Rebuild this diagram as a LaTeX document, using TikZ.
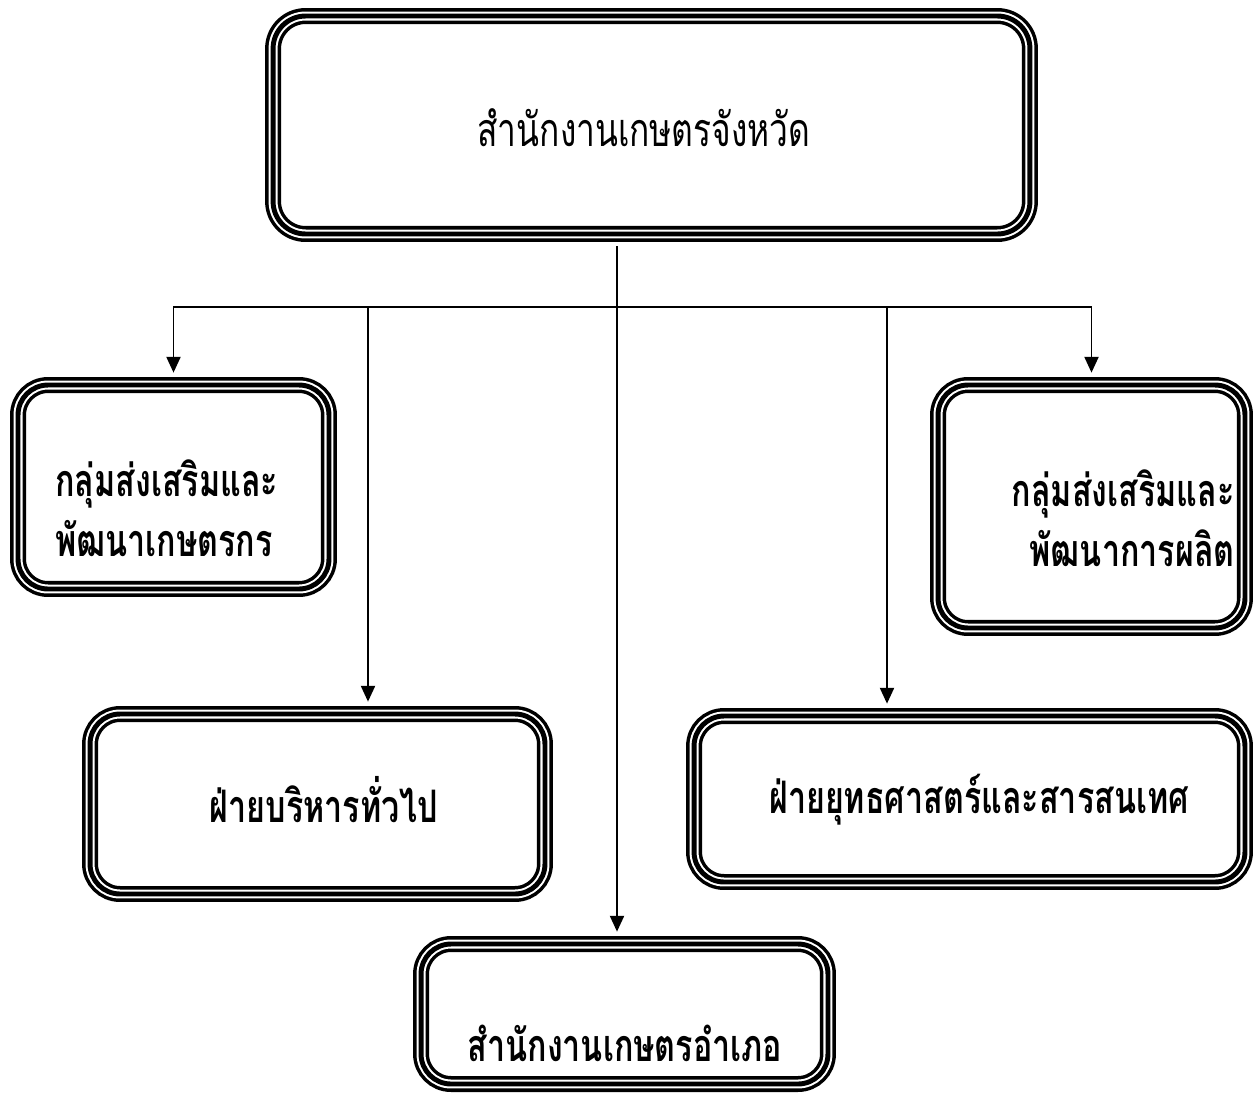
\documentclass[tikz,border=0pt]{standalone}
\usepackage{fontspec}
\newfontfamily\thaifont[Script=Thai,FakeStretch=0.72]{Loma}
\usetikzlibrary{arrows.meta}
\usetikzlibrary{calc}

\begin{document}
\begin{tikzpicture}[x=0.02cm, y=-0.02cm,
  box/.style={rounded corners=0.6cm, minimum width=#1, inner sep=0pt,
    preaction={draw=black, line width=9.1pt}, draw=white, line width=5.1pt,
    postaction={draw=black, line width=2.8pt}},
  txt/.style={font=\thaifont\fontsize{25.5}{34}\selectfont\bfseries, inner sep=0pt},
  link/.style={line width=1.1pt, shorten >=4.5pt, -{Triangle[length=9pt, width=8pt]}}]
\useasboundingbox (0,0) rectangle (1257,1096);

\node[box=15.14cm, minimum height=4.36cm, rounded corners=0.65cm] (hq) at (651.5,125) {};
\node[box=6.22cm, minimum height=4.08cm] (grp1) at (173.5,487) {};
\node[box=6.14cm, minimum height=4.86cm] (grp2) at (1091.5,506.5) {};
\node[box=9.1cm, minimum height=3.6cm] (adm) at (317.5,804) {};
\node[box=11.02cm, minimum height=3.32cm] (strat) at (969.5,799) {};
\node[box=8.14cm, minimum height=2.8cm] (amp) at (624.5,1014) {};

\node[txt, font=\thaifont\fontsize{26.5}{34}\selectfont] (hqt) at (644,128) {สำนักงานเกษตรจังหวัด};
\node[txt, anchor=west, align=left] (grp1t) at (55,508) {กลุ่มส่งเสริมและ\\พัฒนาเกษตรกร};
\node[txt, anchor=east, align=right] (grp2t) at (1235,518) {กลุ่มส่งเสริมและ\\พัฒนาการผลิต};
\node[txt] (admt) at (324,800) {ฝ่ายบริหารทั่วไป};
\node[txt] (stratt) at (979,800) {ฝ่ายยุทธศาสตร์และสารสนเทศ};
\node[txt] (ampt) at (625,1043) {สำนักงานเกษตรอำเภอ};

\coordinate (jc) at (617,307);
\coordinate (jl) at (368,307);
\coordinate (jr) at (887,307);

\draw[link, shorten <=4.5pt] (hq.south -| jc) -- (amp.north -| jc);
\draw[link] (jc) -| (grp1.north);
\draw[link] (jc) -| (grp2.north);
\draw[link] (jl) -- (adm.north -| jl);
\draw[link] (jr) -- (strat.north -| jr);
\end{tikzpicture}
\end{document}
